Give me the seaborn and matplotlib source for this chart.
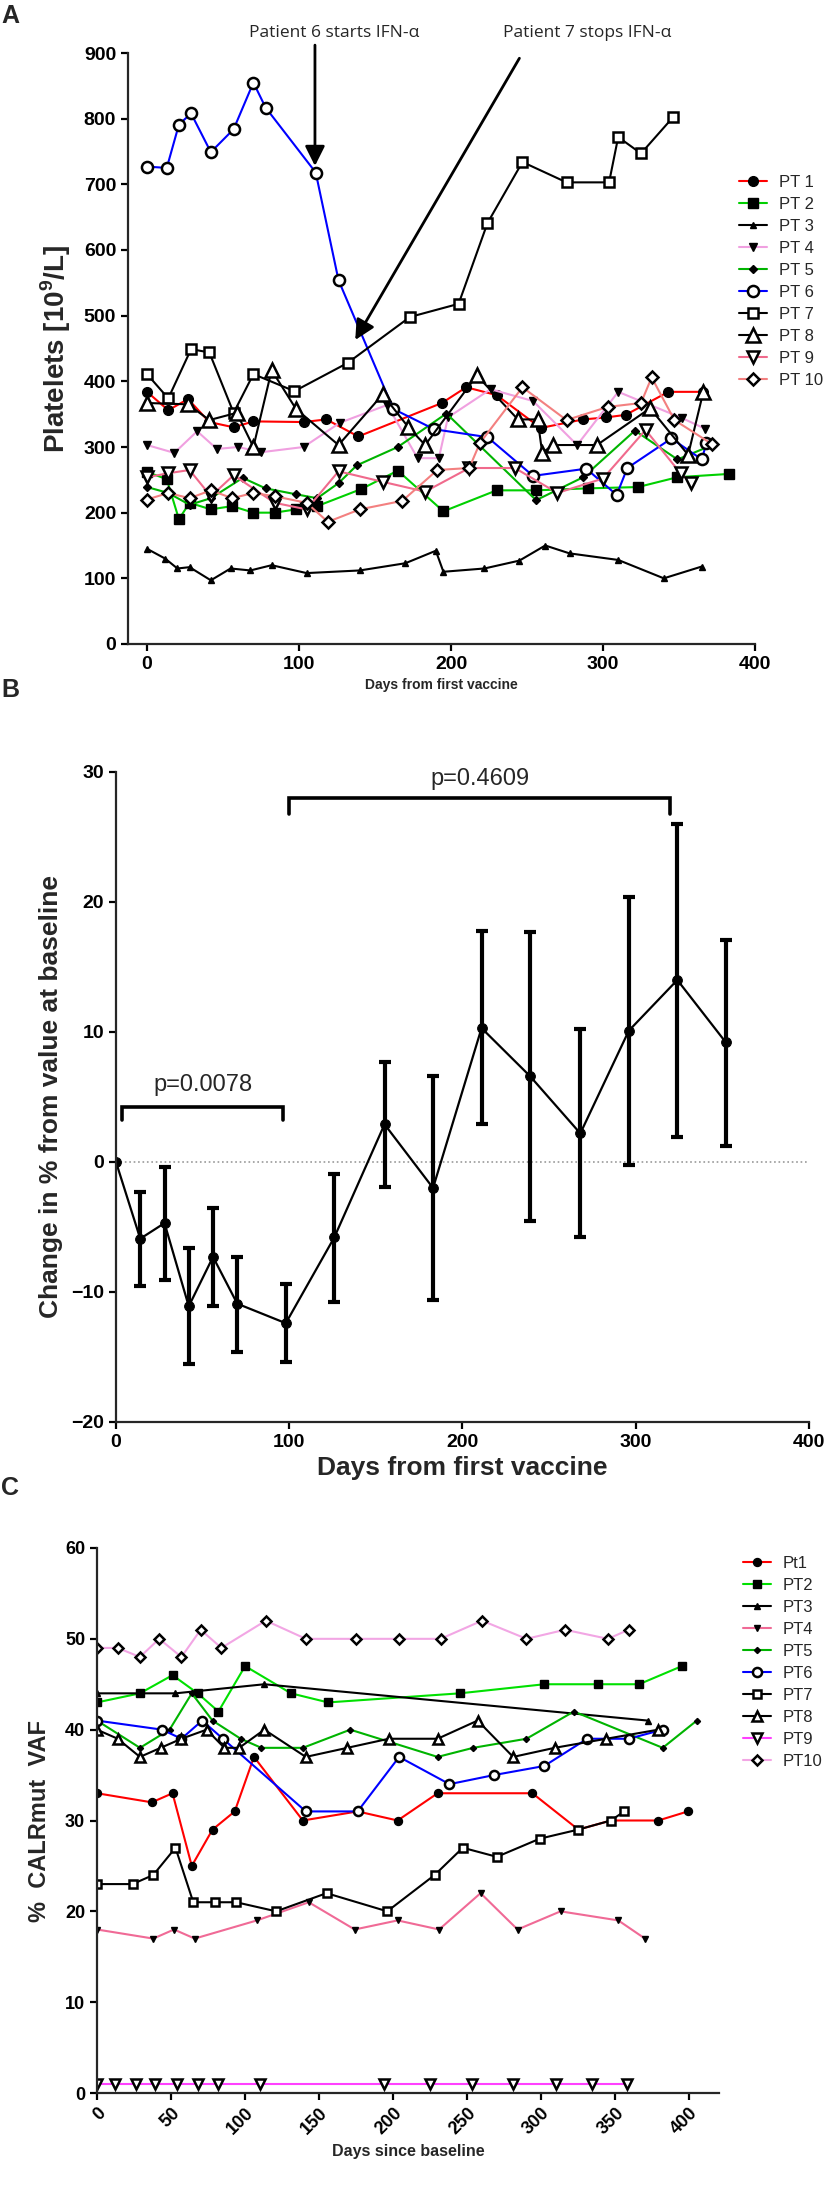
import matplotlib
matplotlib.use('Agg')
import matplotlib.pyplot as plt
import seaborn as sns
from matplotlib.lines import Line2D

sns.set_style('ticks')
plt.rcParams['font.family'] = ['Liberation Sans', 'DejaVu Sans']
plt.rcParams['font.weight'] = 'bold'
plt.rcParams['mathtext.fontset'] = 'custom'
plt.rcParams['mathtext.rm'] = 'Liberation Sans'
plt.rcParams['mathtext.bf'] = 'Liberation Sans:bold'

# ---------------- panel A : platelets ----------------
a_labels = ['PT 1', 'PT 2', 'PT 3', 'PT 4', 'PT 5', 'PT 6', 'PT 7', 'PT 8', 'PT 9', 'PT 10']
a_pt1_days = [0, 14, 27, 41, 57, 70, 103, 118, 139, 194, 210, 230, 259, 287, 302, 315, 343, 366]
a_pt1_vals = [384, 356, 373, 338, 330, 339, 338, 342, 316, 367, 391, 379, 329, 342, 345, 349, 384, 384]
a_pt2_days = [0, 13, 21, 28, 42, 56, 70, 84, 98, 112, 141, 165, 195, 230, 256, 290, 323, 349, 383]
a_pt2_vals = [262, 251, 190, 215, 205, 210, 200, 200, 205, 210, 236, 264, 202, 234, 234, 237, 239, 254, 259]
a_pt3_days = [0, 12, 20, 28, 42, 55, 68, 82, 105, 140, 170, 190, 195, 222, 245, 262, 278, 310, 340, 365]
a_pt3_vals = [145, 130, 115, 117, 97, 115, 112, 120, 108, 112, 123, 142, 110, 115, 127, 150, 138, 128, 100, 118]
a_pt4_days = [0, 18, 33, 46, 60, 75, 103, 127, 158, 178, 192, 198, 226, 254, 283, 310, 352, 367]
a_pt4_vals = [303, 291, 324, 297, 300, 292, 300, 337, 364, 283, 283, 345, 388, 370, 303, 384, 344, 328]
a_pt5_days = [0, 14, 28, 42, 63, 78, 98, 112, 126, 138, 165, 197, 256, 287, 321, 349, 372]
a_pt5_vals = [239, 230, 212, 222, 253, 237, 228, 222, 245, 272, 300, 351, 219, 254, 325, 281, 303]
a_pt6_days = [0, 13, 21, 29, 42, 57, 70, 78, 111, 126, 162, 189, 224, 254, 289, 309, 316, 345, 365, 368]
a_pt6_vals = [727, 725, 791, 808, 749, 784, 855, 817, 718, 554, 358, 327, 315, 256, 267, 227, 268, 313, 281, 306]
a_pt7_days = [0, 14, 29, 41, 57, 70, 97, 132, 173, 205, 224, 247, 276, 304, 310, 325, 346]
a_pt7_vals = [411, 374, 449, 444, 352, 411, 385, 428, 498, 518, 641, 734, 703, 703, 772, 747, 802]
a_pt8_days = [0, 27, 41, 59, 70, 82, 98, 126, 155, 172, 183, 217, 244, 257, 260, 267, 296, 331, 356, 366]
a_pt8_vals = [367, 365, 341, 352, 300, 417, 358, 303, 380, 330, 303, 409, 342, 342, 291, 303, 303, 359, 288, 384]
a_pt9_days = [0, 14, 28, 42, 57, 84, 105, 126, 155, 183, 212, 242, 270, 300, 328, 351, 358]
a_pt9_vals = [254, 260, 265, 225, 257, 215, 205, 263, 247, 232, 268, 268, 230, 252, 326, 260, 245]
a_pt10_days = [0, 14, 28, 42, 56, 70, 84, 105, 119, 140, 168, 191, 212, 219, 247, 276, 303, 325, 332, 347, 372]
a_pt10_vals = [220, 230, 222, 234, 222, 230, 225, 215, 186, 205, 218, 265, 268, 306, 391, 341, 361, 367, 406, 341, 304]

# ---------------- panel B : % change from baseline ----------------
b_days = [0, 14, 28, 42, 56, 70, 98, 126, 155, 183, 211, 239, 268, 296, 324, 352]
b_mean = [0, -5.9, -4.7, -11.1, -7.3, -10.9, -12.4, -5.8, 2.9, -2.0, 10.3, 6.6, 2.2, 10.1, 14.0, 9.2]
b_low = [0, -9.5, -9.1, -15.5, -11.1, -14.6, -15.4, -10.8, -1.9, -10.6, 2.9, -4.5, -5.8, -0.2, 1.9, 1.2]
b_high = [0, -2.3, -0.4, -6.6, -3.5, -7.3, -9.4, -0.9, 7.7, 6.6, 17.8, 17.7, 10.2, 20.4, 26.0, 17.1]

# ---------------- panel C : CALRmut VAF ----------------
c_labels = ['Pt1', 'PT2', 'PT3', 'PT4', 'PT5', 'PT6', 'PT7', 'PT8', 'PT9', 'PT10']
c_pt1_days = [0, 37, 51, 64, 78, 93, 106, 139, 176, 203, 230, 294, 325, 347, 379, 399]
c_pt1_vals = [33, 32, 33, 25, 29, 31, 37, 30, 31, 30, 33, 33, 29, 30, 30, 31]
c_pt2_days = [0, 29, 51, 68, 82, 100, 131, 156, 245, 302, 338, 366, 395]
c_pt2_vals = [43, 44, 46, 44, 42, 47, 44, 43, 44, 45, 45, 45, 47]
c_pt3_days = [0, 53, 113, 372]
c_pt3_vals = [44, 44, 45, 41]
c_pt4_days = [0, 38, 52, 66, 108, 143, 174, 203, 231, 259, 284, 313, 352, 370]
c_pt4_vals = [18, 17, 18, 17, 19, 21, 18, 19, 18, 22, 18, 20, 19, 17]
c_pt5_days = [0, 29, 49, 64, 78, 97, 111, 139, 171, 230, 254, 290, 322, 382, 405]
c_pt5_vals = [41, 38, 40, 44, 41, 39, 38, 38, 40, 37, 38, 39, 42, 38, 41]
c_pt6_days = [0, 44, 57, 71, 85, 141, 176, 204, 238, 268, 302, 331, 359, 382]
c_pt6_vals = [41, 40, 39, 41, 39, 31, 31, 37, 34, 35, 36, 39, 39, 40]
c_pt7_days = [0, 24, 38, 53, 65, 80, 94, 121, 155, 196, 228, 247, 270, 299, 325, 347, 356]
c_pt7_vals = [23, 23, 24, 27, 21, 21, 21, 20, 22, 20, 24, 27, 26, 28, 29, 30, 31]
c_pt8_days = [0, 14, 29, 43, 57, 74, 86, 96, 113, 141, 169, 197, 230, 257, 281, 309, 344, 379]
c_pt8_vals = [40, 39, 37, 38, 39, 40, 38, 38, 40, 37, 38, 39, 39, 41, 37, 38, 39, 40]
c_pt9_days = [0, 12, 26, 39, 54, 68, 82, 110, 194, 225, 253, 281, 310, 334, 358]
c_pt9_vals = [1, 1, 1, 1, 1, 1, 1, 1, 1, 1, 1, 1, 1, 1, 1]
c_pt10_days = [0, 14, 29, 42, 57, 70, 84, 114, 141, 175, 204, 232, 260, 290, 316, 345, 359]
c_pt10_vals = [49, 49, 48, 50, 48, 51, 49, 52, 50, 50, 50, 50, 52, 50, 51, 50, 51]

a_series = [(a_pt1_days, a_pt1_vals), (a_pt2_days, a_pt2_vals), (a_pt3_days, a_pt3_vals),
            (a_pt4_days, a_pt4_vals), (a_pt5_days, a_pt5_vals), (a_pt6_days, a_pt6_vals),
            (a_pt7_days, a_pt7_vals), (a_pt8_days, a_pt8_vals), (a_pt9_days, a_pt9_vals),
            (a_pt10_days, a_pt10_vals)]
c_series = [(c_pt1_days, c_pt1_vals), (c_pt2_days, c_pt2_vals), (c_pt3_days, c_pt3_vals),
            (c_pt4_days, c_pt4_vals), (c_pt5_days, c_pt5_vals), (c_pt6_days, c_pt6_vals),
            (c_pt7_days, c_pt7_vals), (c_pt8_days, c_pt8_vals), (c_pt9_days, c_pt9_vals),
            (c_pt10_days, c_pt10_vals)]

# styles: (marker, size, filled)
marks = [('o', 7, True), ('s', 6.5, True), ('^', 5, True), ('v', 6, True), ('D', 3.8, True),
         ('o', 8, False), ('s', 7, False), ('^', 9.5, False), ('v', 8.5, False), ('D', 6.5, False)]
a_colors = ['#ff0000', '#00d000', '#000000', '#f0a0e0', '#00b400', '#0000ff',
            '#000000', '#000000', '#f06a8c', '#f38080']
c_colors = ['#ff0000', '#00e000', '#000000', '#f06a96', '#00b400', '#0000ff',
            '#000000', '#000000', '#ff40ff', '#f2a6e4']
c_scale = 0.82

W, H = 827, 2207
fig = plt.figure(figsize=(W / 100, H / 100), dpi=100)


def box(l, r, t, b):
    return [l / W, 1 - b / H, (r - l) / W, (b - t) / H]


def style_axis(ax, size):
    sns.despine(ax=ax)
    for s in ['left', 'bottom']:
        ax.spines[s].set_linewidth(1.6)
    ax.tick_params(width=1.6, length=5, labelsize=size, colors='black')
    for t in ax.get_xticklabels() + ax.get_yticklabels():
        t.set_fontweight('bold')


def draw(ax, days, vals, color, mk, ms, filled):
    sns.lineplot(x=days, y=vals, ax=ax, color=color, linewidth=1.5, sort=False,
                 estimator=None, legend=False, marker=mk, markersize=ms,
                 markerfacecolor='black' if filled else 'white',
                 markeredgecolor='black', markeredgewidth=1.0 if filled else 1.8)


def handle(color, mk, ms, filled):
    return Line2D([0], [0], color=color, lw=1.5, marker=mk, markersize=ms,
                  markerfacecolor='black' if filled else 'white', markeredgecolor='black',
                  markeredgewidth=1.0 if filled else 1.8)


# ---- A ----
axA = fig.add_axes(box(128, 755, 53, 644))
for (d, v), c, (mk, ms, f) in zip(a_series, a_colors, marks):
    draw(axA, d, v, c, mk, ms, f)
axA.set_xlim(-12.5, 400)
axA.set_ylim(0, 900)
axA.set_xticks(range(0, 401, 100))
axA.set_yticks(range(0, 901, 100))
axA.set_xlabel('Days from first vaccine', fontsize=10, fontweight='bold')
axA.set_ylabel(r'Platelets [10$^{\mathbf{9}}$/L]', fontsize=20, fontweight='bold', labelpad=8)
style_axis(axA, 14)

ann_font = dict(family=['Open Sans', 'DejaVu Sans'], fontsize=12.5, fontweight='normal')
fig.text(334 / W, 1 - 33 / H, 'Patient 6 starts IFN-α', ha='center', va='center', **ann_font)
fig.text(587 / W, 1 - 33 / H, 'Patient 7 stops IFN-α', ha='center', va='center', **ann_font)
axA.annotate('', xy=(110.5, 728), xytext=(110.5, 912), annotation_clip=False,
             arrowprops=dict(arrowstyle='-|>,head_length=0.6,head_width=0.3',
                             color='black', lw=2, mutation_scale=20, shrinkA=0, shrinkB=0))
axA.annotate('', xy=(137, 463), xytext=(245, 892), annotation_clip=False,
             arrowprops=dict(arrowstyle='-|>,head_length=0.6,head_width=0.3',
                             color='black', lw=2, mutation_scale=20, shrinkA=0, shrinkB=0))

a_handles = [handle(c, mk, ms, f) for c, (mk, ms, f) in zip(a_colors, marks)]
fig.legend(a_handles, a_labels, loc='upper left', bbox_to_anchor=(724 / W, 1 - 160 / H),
           frameon=False, prop=dict(family='Liberation Sans', size=12, weight='normal'),
           handlelength=1.7, handletextpad=0.7, labelspacing=0.42)
fig.text(10 / W, 1 - 16 / H, 'A', fontsize=18, fontweight='bold', ha='center', va='center')

# ---- B ----
axB = fig.add_axes(box(116, 809, 772, 1422))
axB.axhline(0, color='#999999', ls=':', lw=1.2, zorder=0)
yerr = [[m - lo for m, lo in zip(b_mean[1:], b_low[1:])],
        [hi - m for m, hi in zip(b_mean[1:], b_high[1:])]]
axB.errorbar(b_days[1:], b_mean[1:], yerr=yerr, fmt='none', ecolor='black',
             elinewidth=3, capsize=4, capthick=3)
sns.lineplot(x=b_days, y=b_mean, ax=axB, color='black', linewidth=1.6, sort=False,
             estimator=None, legend=False, marker='o', markersize=7,
             markerfacecolor='black', markeredgecolor='black')
axB.set_xlim(0, 400)
axB.set_ylim(-20, 30)
axB.set_xticks(range(0, 401, 100))
axB.set_yticks(range(-20, 31, 10))
axB.set_xlabel('Days from first vaccine', fontsize=19, fontweight='bold')
axB.set_ylabel('Change in % from value at baseline', fontsize=19, fontweight='bold', labelpad=6)
style_axis(axB, 14)

for x0, x1, yb, yt, label, ty in [(3.5, 96.5, 4.2, 3.2, 'p=0.0078', 5.9),
                                   (100, 320, 28.0, 26.8, 'p=0.4609', 29.5)]:
    axB.plot([x0, x0, x1, x1], [yt, yb, yb, yt], color='black', lw=2.6, clip_on=False,
             solid_joinstyle='miter')
    axB.text((x0 + x1) / 2, ty, label, ha='center', va='center', fontsize=17,
             fontweight='normal')
fig.text(10 / W, 1 - 690 / H, 'B', fontsize=18, fontweight='bold', ha='center', va='center')

# ---- C ----
axC = fig.add_axes(box(97, 719, 1548, 2093))
for (d, v), c, (mk, ms, f) in zip(c_series, c_colors, marks):
    draw(axC, d, v, c, mk, ms * c_scale, f)
axC.set_xlim(0, 420)
axC.set_ylim(0, 60)
axC.set_xticks(range(0, 401, 50))
axC.set_yticks(range(0, 61, 10))
axC.set_xlabel('Days since baseline', fontsize=11.5, fontweight='bold')
axC.set_ylabel('%  CALRmut  VAF', fontsize=17, fontweight='bold', labelpad=10)
style_axis(axC, 13)
for t in axC.get_xticklabels():
    t.set_rotation(45)
    t.set_ha('right')
    t.set_rotation_mode('anchor')

c_handles = [handle(c, mk, ms * c_scale, f) for c, (mk, ms, f) in zip(c_colors, marks)]
fig.legend(c_handles, c_labels, loc='upper left', bbox_to_anchor=(728 / W, 1 - 1541 / H),
           frameon=False, prop=dict(family='Liberation Sans', size=12, weight='normal'),
           handlelength=1.7, handletextpad=0.7, labelspacing=0.42)
fig.text(10 / W, 1 - 1488 / H, 'C', fontsize=18, fontweight='bold', ha='center', va='center')

fig.savefig('out.png', dpi=100, facecolor='white')
